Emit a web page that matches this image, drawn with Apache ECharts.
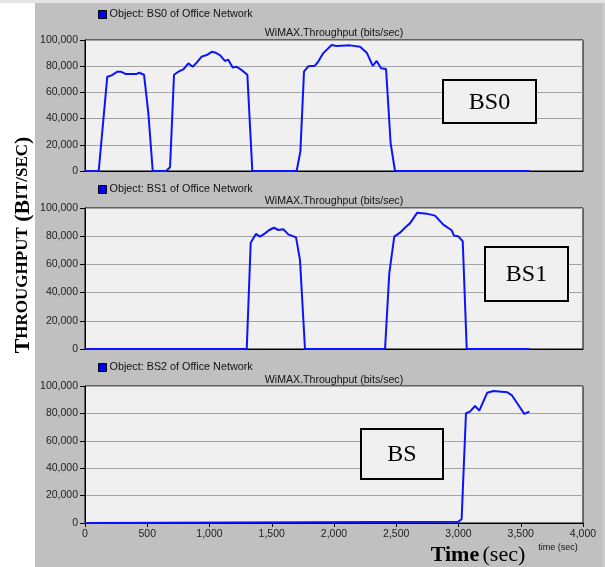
<!DOCTYPE html>
<html>
<head>
<meta charset="utf-8">
<script src="https://cdn.jsdelivr.net/npm/echarts@6/dist/echarts.min.js"></script>
<style>
  html, body { margin: 0; padding: 0; background: #fff; }
  #chart { width: 605px; height: 567px; }
</style>
</head>
<body>
<div id="chart"></div>
<script>
// 数据：时间 (sec) 与吞吐量 (bits/sec)
var bs0Time = [0, 110, 179, 214, 260, 287, 329, 410, 436, 474, 509, 544, 651, 683, 715, 750, 790, 830, 865, 897, 937, 977, 1018, 1044, 1084, 1124, 1151, 1186, 1218, 1259, 1304, 1344, 1700, 1730, 1759, 1794, 1847, 1875, 1914, 1981, 2021, 2129, 2209, 2263, 2311, 2343, 2378, 2418, 2455, 2490, 3569];
var bs0Value = [0, 0, 72000, 73000, 75800, 75800, 74000, 74000, 75000, 73500, 44000, 0, 0, 2800, 73500, 75800, 77600, 82200, 79600, 82700, 87300, 88500, 91000, 90500, 88500, 84000, 85000, 79000, 79600, 77000, 73500, 0, 0, 15000, 75800, 80000, 80400, 83700, 90000, 96200, 95400, 95900, 94900, 90300, 80200, 84000, 78400, 77900, 21100, 0, 0];

var bs1Time = [0, 1299, 1331, 1373, 1406, 1446, 1480, 1518, 1553, 1593, 1633, 1695, 1727, 1767, 2410, 2444, 2484, 2530, 2578, 2610, 2669, 2744, 2811, 2878, 2945, 2964, 2998, 3034, 3066, 3569];
var bs1Value = [0, 0, 75400, 81600, 79700, 82000, 84400, 86000, 84400, 84900, 81300, 79200, 63000, 0, 0, 53700, 79700, 82500, 86700, 89100, 96700, 96000, 94600, 88200, 84200, 80400, 79900, 76400, 0, 0];

var bs2Time = [0, 2999, 3025, 3060, 3092, 3133, 3167, 3231, 3280, 3392, 3427, 3481, 3529, 3569];
var bs2Value = [0, 1000, 2700, 80100, 81300, 85400, 82000, 95100, 96400, 95400, 93400, 86100, 79600, 81300];

var seriesNames = ["Object: BS0 of Office Network", "Object: BS1 of Office Network", "Object: BS2 of Office Network"];
var boxLabels = ["BS0", "BS1", "BS"];
var timeTicks = [0, 4000, 500];
var throughputTicks = [0, 100000, 20000];

function zip(t, v) {
  return t.map(function (x, i) { return [x, v[i]]; });
}

var panels = [
  { top: 40, height: 131, legendTop: 9, titleY: 33, data: zip(bs0Time, bs0Value), box: [443, 80, 93, 43] },
  { top: 208, height: 141, legendTop: 184, titleY: 201, data: zip(bs1Time, bs1Value), box: [485, 247, 83, 54] },
  { top: 386, height: 137, legendTop: 362, titleY: 380, data: zip(bs2Time, bs2Value), box: [361, 429, 82, 50] }
];

var labelFont = { fontFamily: "Liberation Sans, Arial", fontSize: 10.5, color: "#222" };

var grid = [], xAxis = [], yAxis = [], series = [], legend = [];
var graphic = [
  { type: "rect", shape: { x: 0, y: 0, width: 605, height: 3 }, style: { fill: "#e4e4e4" }, z: -10 },
  { type: "rect", shape: { x: 35, y: 3, width: 567, height: 564 }, style: { fill: "#c0c0c0" }, z: -10 },
  { type: "rect", shape: { x: 602, y: 3, width: 3, height: 564 }, style: { fill: "#cbcbcb" }, z: -10 }
];

panels.forEach(function (p, i) {
  var last = i === panels.length - 1;
  grid.push({
    left: 85, right: 22, top: p.top, height: p.height,
    show: true, backgroundColor: "#f0f0f0", borderColor: "#000", borderWidth: 1
  });
  xAxis.push({
    type: "value", gridIndex: i,
    min: timeTicks[0], max: timeTicks[1], interval: timeTicks[2],
    axisLine: { show: true, lineStyle: { color: "#000", width: 1 } },
    axisTick: { show: last, length: 4, lineStyle: { color: "#000" } },
    axisLabel: {
      show: last, margin: 6,
      fontFamily: labelFont.fontFamily, fontSize: labelFont.fontSize, color: labelFont.color,
      formatter: function (v) { return v.toLocaleString("en-US"); }
    },
    splitLine: { show: false }
  });
  yAxis.push({
    type: "value", gridIndex: i,
    min: throughputTicks[0], max: throughputTicks[1], interval: throughputTicks[2],
    axisLine: { show: true, lineStyle: { color: "#000", width: 1 } },
    axisTick: { show: true, length: 5, lineStyle: { color: "#000" } },
    axisLabel: {
      margin: 7,
      fontFamily: labelFont.fontFamily, fontSize: labelFont.fontSize, color: labelFont.color,
      formatter: function (v) { return v.toLocaleString("en-US"); }
    },
    splitLine: { show: true, lineStyle: { color: "#a4a4a4", width: 1 } }
  });
  series.push({
    name: seriesNames[i], type: "line",
    xAxisIndex: i, yAxisIndex: i,
    data: p.data, showSymbol: false, symbol: "none", clip: false,
    color: "#0000ff",
    lineStyle: { color: "#0a14ff", width: 2 },
    animation: false, z: 5
  });
  legend.push({
    data: [seriesNames[i]], left: 98, top: p.legendTop, padding: 0,
    icon: "rect", itemWidth: 8, itemHeight: 8, itemGap: 0,
    itemStyle: { borderColor: "#000", borderWidth: 1 },
    textStyle: { fontFamily: "Liberation Sans, Arial", fontSize: 10.8, color: "#111", padding: [0, 0, 0, -2] },
    selectedMode: false
  });
  graphic.push({
    type: "text", x: 334, y: p.titleY, z: 10,
    style: {
      text: "WiMAX.Throughput (bits/sec)", fill: "#111",
      font: "10.6px Liberation Sans, Arial", textAlign: "center", textVerticalAlign: "middle"
    }
  });
  graphic.push({
    type: "rect", z: 10,
    shape: { x: p.box[0], y: p.box[1], width: p.box[2], height: p.box[3] },
    style: { fill: "#f0f0f0", stroke: "#000", lineWidth: 2 }
  });
  graphic.push({
    type: "text", z: 11,
    x: p.box[0] + p.box[2] / 2, y: p.box[1] + p.box[3] / 2 + 1,
    style: {
      text: boxLabels[i], fill: "#000",
      font: "24px Liberation Serif, Times New Roman", textAlign: "center", textVerticalAlign: "middle"
    }
  });
});

// 纵轴标题（小型大写）
graphic.push({
  type: "text", x: 23, y: 245, rotation: Math.PI / 2, z: 10,
  style: {
    text: "{a|T}{b|HROUGHPUT}{a| (B}{b|IT/SEC}{a|)}",
    textAlign: "center", textVerticalAlign: "middle",
    rich: {
      a: { fontFamily: "Liberation Serif, Times New Roman", fontWeight: "bold", fontSize: 22, fill: "#000", color: "#000" },
      b: { fontFamily: "Liberation Serif, Times New Roman", fontWeight: "bold", fontSize: 17, fill: "#000", color: "#000" }
    }
  }
});
// 横轴标题
graphic.push({
  type: "text", x: 478, y: 555, z: 10,
  style: {
    text: "{a|Time} {b|(sec)}",
    textAlign: "center", textVerticalAlign: "middle",
    rich: {
      a: { fontFamily: "Liberation Serif, Times New Roman", fontWeight: "bold", fontSize: 22, fill: "#000", color: "#000" },
      b: { fontFamily: "Liberation Serif, Times New Roman", fontSize: 22, fill: "#000", color: "#000" }
    }
  }
});
graphic.push({
  type: "text", x: 558, y: 548, z: 10,
  style: { text: "time (sec)", fill: "#111", font: "9px Liberation Sans, Arial", textAlign: "center", textVerticalAlign: "middle" }
});

var myChart = echarts.init(document.getElementById("chart"));
myChart.setOption({
  animation: false,
  backgroundColor: "#fff",
  grid: grid,
  xAxis: xAxis,
  yAxis: yAxis,
  legend: legend,
  series: series,
  graphic: graphic
});
window.addEventListener("resize", function () { myChart.resize(); });
</script>
</body>
</html>
